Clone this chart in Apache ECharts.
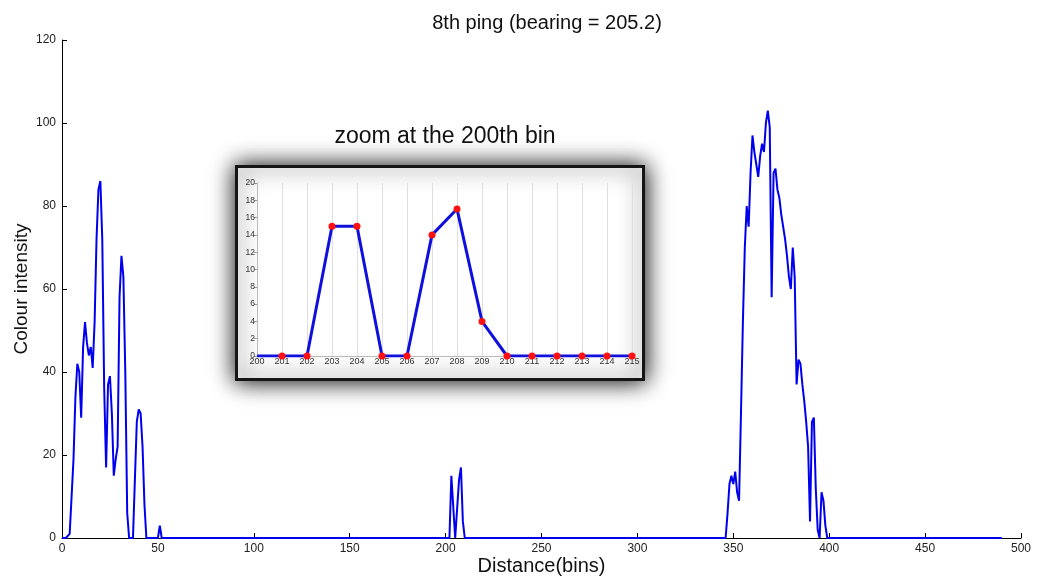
<!DOCTYPE html>
<html>
<head>
<meta charset="utf-8">
<script src="https://cdn.jsdelivr.net/npm/echarts@6/dist/echarts.min.js"></script>
<style>
  html, body { margin: 0; padding: 0; background: #ffffff; }
  #chart { width: 1038px; height: 580px; }
</style>
</head>
<body>
<div id="chart"></div>
<script>
// Sonar ping profile: colour intensity per distance bin.
const lastBin = 490;

// Returns close to the transducer, starting at bin 0
const nearStart = 0;
const nearEcho = [0, 0, 0, 0, 1, 10, 19, 34, 42, 40, 29, 46, 52, 47, 44, 46, 41, 52, 72, 84,
                  86, 72, 36, 17, 37, 39, 30, 15, 19, 22, 58, 68, 63, 40, 6, 0, 0, 0, 14, 28,
                  31, 30, 22, 8, 0, 0, 0, 0, 0, 0, 0, 3, 0];

// Bins 200..215, also shown in the zoomed panel
const zoomBins = [200, 201, 202, 203, 204, 205, 206, 207, 208, 209, 210, 211, 212, 213, 214, 215];
const zoomValues = [0, 0, 0, 15, 15, 0, 0, 14, 17, 4, 0, 0, 0, 0, 0, 0];

// Main target return, starting at bin 344
const farStart = 344;
const farEcho = [0, 0, 0, 6, 13, 15, 13, 16, 11, 9, 30, 52, 70, 80, 75, 88, 97, 93, 90, 87,
                 92, 95, 93, 100, 103, 99, 58, 88, 89, 84, 82, 78, 75, 72, 68, 63, 60, 70, 63, 37,
                 43, 42, 37, 33, 28, 22, 4, 28, 29, 12, 2, 0, 11, 9, 3, 0];

// Full profile: zero everywhere except the recorded returns
const intensity = new Array(lastBin + 1).fill(0);
nearEcho.forEach((v, i) => { intensity[nearStart + i] = v; });
zoomBins.forEach((b, i) => { intensity[b] = zoomValues[i]; });
farEcho.forEach((v, i) => { intensity[farStart + i] = v; });
const profile = intensity.map((v, i) => [i, v]);

const zoomPoints = zoomBins.map((b, i) => (
  i === 0 ? { value: [b, zoomValues[i]], symbol: 'none' } : { value: [b, zoomValues[i]] }
));

const FONT = "'Liberation Sans', Arial, sans-serif";

const chart = echarts.init(document.getElementById('chart'), null, { renderer: 'canvas' });

chart.setOption({
  animation: false,
  backgroundColor: '#ffffff',
  title: [
    {
      text: '8th ping (bearing = 205.2)',
      left: 542, top: 8, textAlign: 'center',
      textStyle: { fontFamily: FONT, fontSize: 20, fontWeight: 'normal', color: '#111' }
    },
    {
      text: 'zoom at the 200th bin',
      left: 440, top: 120, textAlign: 'center',
      textStyle: { fontFamily: FONT, fontSize: 23, fontWeight: 'normal', color: '#111' }
    }
  ],
  graphic: [
    {
      type: 'rect',
      z: 3,
      shape: { x: 236.5, y: 166.5, width: 407, height: 213 },
      style: {
        fill: '#ffffff',
        stroke: '#151515',
        lineWidth: 3,
        shadowBlur: 22,
        shadowColor: 'rgba(0,0,0,1)'
      }
    }
  ],
  grid: [
    { left: 62, right: 17, top: 40, bottom: 42, outerBoundsMode: 'none', containLabel: false },
    { left: 257, right: 406, top: 183, bottom: 224, outerBoundsMode: 'none', containLabel: false }
  ],
  xAxis: [
    {
      gridIndex: 0, type: 'value', min: 0, max: 500, interval: 50,
      name: 'Distance(bins)', nameLocation: 'middle', nameGap: 18, nameMoveOverlap: false,
      nameTextStyle: { fontFamily: FONT, fontSize: 20, color: '#111' },
      axisLine: { lineStyle: { color: '#000', width: 1 } },
      axisTick: { inside: true, length: 5, lineStyle: { color: '#000' } },
      axisLabel: { fontFamily: FONT, fontSize: 12, color: '#222', margin: 5 },
      splitLine: { show: false }
    },
    {
      gridIndex: 1, type: 'value', min: 200, max: 215, interval: 1, z: 4,
      axisLine: { lineStyle: { color: '#bbb', width: 1 } },
      axisTick: { show: false },
      axisLabel: { fontFamily: FONT, fontSize: 9, color: '#333', margin: 1 },
      splitLine: { show: true, lineStyle: { color: '#dedede', width: 1 } }
    }
  ],
  yAxis: [
    {
      gridIndex: 0, type: 'value', min: 0, max: 120, interval: 20,
      name: 'Colour intensity', nameLocation: 'middle', nameGap: 31, nameMoveOverlap: false,
      nameTextStyle: { fontFamily: FONT, fontSize: 19, color: '#111' },
      axisLine: { show: true, lineStyle: { color: '#000', width: 1 } },
      axisTick: { show: true, inside: true, length: 5, lineStyle: { color: '#000' } },
      axisLabel: { fontFamily: FONT, fontSize: 12, color: '#222', margin: 6 },
      splitLine: { show: false }
    },
    {
      gridIndex: 1, type: 'value', min: 0, max: 20, interval: 2, z: 4,
      axisLine: { show: true, lineStyle: { color: '#bbb', width: 1 } },
      axisTick: { show: true, length: 3, lineStyle: { color: '#999' } },
      axisLabel: { fontFamily: FONT, fontSize: 8.5, color: '#333', margin: 2 },
      splitLine: { show: false }
    }
  ],
  series: [
    {
      type: 'line', xAxisIndex: 0, yAxisIndex: 0, z: 2,
      data: profile,
      showSymbol: false, symbol: 'none',
      lineStyle: { color: '#0000ee', width: 2 },
      silent: true
    },
    {
      type: 'line', xAxisIndex: 1, yAxisIndex: 1, z: 5,
      data: zoomPoints,
      symbol: 'circle', symbolSize: 7,
      itemStyle: { color: '#ff1010', borderWidth: 0 },
      lineStyle: { color: '#1010dd', width: 3 },
      silent: true
    }
  ]
});
</script>
</body>
</html>
